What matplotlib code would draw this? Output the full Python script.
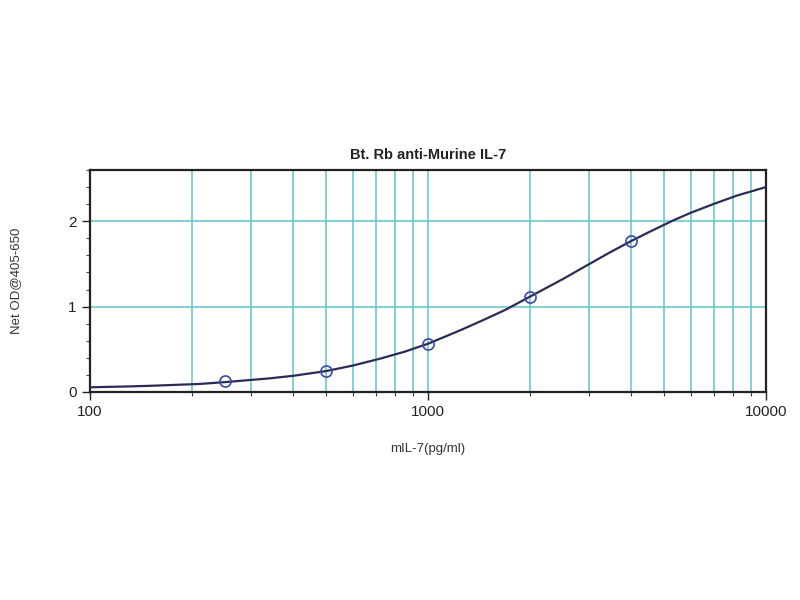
import matplotlib
matplotlib.use("Agg")
import matplotlib.pyplot as plt
from matplotlib.ticker import LogLocator, FixedLocator, NullFormatter, MultipleLocator

plt.rcParams['font.family'] = ['Liberation Sans', 'DejaVu Sans']

# Standard points
conc = [250, 500, 1000, 2000, 4000]
od = [0.13, 0.25, 0.565, 1.115, 1.77]

# Fitted curve
curve_x = [100, 130, 150, 170, 211, 250, 341, 400, 500, 600, 721, 850, 1000,
           1250, 1500, 1700, 2000, 2500, 2944, 3400, 4000, 4600, 5320, 6000,
           6980, 8200, 10000]
curve_y = [0.055, 0.065, 0.072, 0.08, 0.094, 0.115, 0.16, 0.19, 0.245, 0.31,
           0.39, 0.47, 0.565, 0.725, 0.865, 0.965, 1.115, 1.32, 1.48, 1.62, 1.77,
           1.89, 2.01, 2.10, 2.20, 2.30, 2.40]

title = "Bt. Rb anti-Murine IL-7"
xlabel = "mIL-7(pg/ml)"
ylabel = "Net OD@405-650"

fig = plt.figure(figsize=(8, 6), dpi=100)
ax = fig.add_axes([0.1125, 0.3467, 0.845, 0.37])

ax.set_xscale("log")
ax.set_xlim(100, 10000)
ax.set_ylim(0, 2.6)

grid_c = "#62c6ca"
vgrid = [200, 300, 400, 500, 600, 700, 800, 900, 1000, 2000, 3000, 4000,
         5000, 6000, 7000, 8000, 9000]
for v in vgrid:
    ax.axvline(v, color=grid_c, lw=1.1, zorder=1)
for h in [1, 2]:
    ax.axhline(h, color=grid_c, lw=1.1, zorder=1)

ax.plot(curve_x, curve_y, color="#2b2b55", lw=1.6, zorder=3)
ax.plot(conc, od, linestyle="none", marker="o", markersize=8,
        markerfacecolor="none", markeredgecolor="#3a4aa8", markeredgewidth=1.2,
        zorder=4)

ax.xaxis.set_major_locator(FixedLocator([100, 1000, 10000]))
ax.xaxis.set_major_formatter(plt.FuncFormatter(lambda v, p: f"{int(v)}"))
ax.xaxis.set_minor_locator(LogLocator(base=10, subs=range(2, 10)))
ax.xaxis.set_minor_formatter(NullFormatter())
ax.yaxis.set_major_locator(FixedLocator([0, 1, 2]))
ax.yaxis.set_minor_locator(MultipleLocator(0.2))

ax.tick_params(which="major", direction="out", length=6, width=1, labelsize=11,
               colors="#222222")
ax.tick_params(which="minor", direction="out", length=3, width=0.8,
               colors="#444444")

for s in ax.spines.values():
    s.set_linewidth(1.6)
    s.set_color("#222222")

ax.set_title(title, fontsize=10.5, fontweight="bold", pad=8, color="#222222")
ax.set_xlabel(xlabel, fontsize=9.5, labelpad=17, color="#333333")
ax.set_ylabel(ylabel, fontsize=9.5, labelpad=33, color="#333333")

fig.savefig("out.png", dpi=100)
